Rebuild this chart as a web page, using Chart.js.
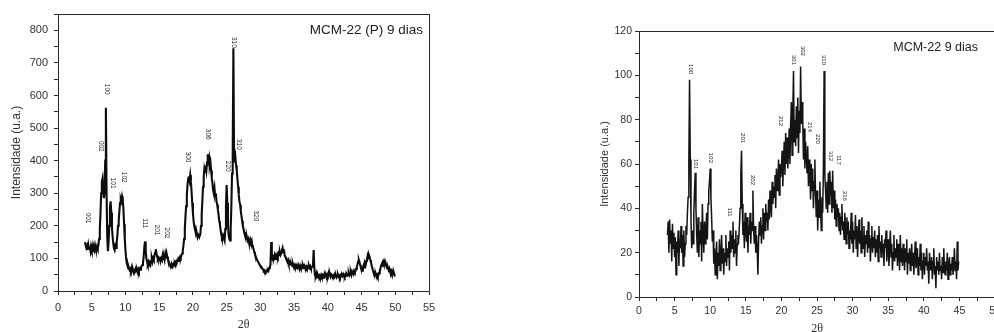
<!DOCTYPE html>
<html>
<head>
<meta charset="utf-8">
<script src="https://cdn.jsdelivr.net/npm/chart.js@4/dist/chart.umd.min.js"></script>
<style>
  html, body { margin: 0; padding: 0; width: 994px; height: 332px; overflow: hidden; background: #fdfdfd; }
  canvas { position: absolute; top: 0; }
  #left { left: 0; }
  #right { left: 580px; }
</style>
</head>
<body>
<canvas id="left" width="470" height="332"></canvas>
<canvas id="right" width="430" height="336"></canvas>
<script>
// Diffractogram sampling: 2θ starts at 4° and advances 0.1° per reading
const THETA_START = 4.0;
const THETA_STEP = 0.1;

// MCM-22 (P) 9 dias — intensity, one row per degree (4.0 … 50.0)
const intensityP = [
  150,140,132,138,126,142,130,136,124,138,
  128,136,122,134,126,140,130,124,136,130,
  142,160,190,240,300,335,345,310,285,300,
  400,562,300,165,122,150,200,255,275,240,
  195,165,145,130,125,138,132,150,170,200,
  215,245,270,282,275,290,280,250,205,160,
  125,100,85,78,70,72,65,68,62,70,
  60,66,58,64,62,68,60,65,58,66,
  60,68,65,72,76,80,88,105,135,152,
  125,100,90,82,88,78,85,80,92,100,
  90,100,95,110,118,128,115,105,98,102,
  95,105,92,100,96,108,98,104,95,112,
  100,115,105,96,92,85,80,78,72,80,
  75,82,78,85,80,90,88,95,92,100,
  98,105,102,110,115,125,140,160,190,230,
  260,295,325,345,352,340,356,335,305,270,
  240,215,200,190,182,170,175,165,172,168,
  168,175,200,235,275,320,350,375,365,385,
  370,395,420,400,410,385,395,370,345,330,
  310,300,315,290,300,275,265,250,235,215,
  205,188,175,165,170,158,162,155,190,260,
  325,270,205,170,160,155,190,260,360,420,
  745,420,395,410,385,370,345,320,295,275,
  265,245,230,215,200,190,180,172,168,160,
  165,155,160,150,148,158,150,155,140,135,
  128,120,112,108,100,96,92,88,84,80,
  78,75,72,68,66,62,64,60,58,62,
  60,65,62,70,75,80,150,110,100,105,
  102,110,98,108,104,112,106,115,110,120,
  112,118,125,132,120,128,110,105,100,95,
  90,95,85,88,82,86,80,78,84,76,
  80,74,78,70,76,72,80,74,70,78,
  72,76,70,80,74,78,72,68,75,70,
  74,70,78,72,76,70,72,75,80,126,
  70,48,45,52,42,50,44,48,42,46,
  50,44,48,40,46,52,45,48,42,50,
  46,55,48,52,44,50,46,42,48,45,
  50,44,48,42,46,50,44,47,42,48,
  45,50,46,52,48,44,50,46,52,48,
  50,55,48,52,58,50,60,56,52,62,
  58,62,68,75,82,90,95,88,80,72,
  65,62,70,78,72,85,80,92,98,108,
  100,110,104,95,88,78,70,62,55,50,
  48,52,45,50,44,48,55,60,70,78,
  82,88,92,85,90,80,82,75,70,72,
  65,70,62,58,62,55,60,52,55,48,
  50
];

// MCM-22 9 dias — intensity, one row per degree (4.0 … 44.9)
const intensity9 = [
  28,34,20,35,24,30,16,33,22,29,
  18,27,10,25,20,30,14,26,22,32,
  20,28,14,30,18,24,32,28,38,45,
  60,98,62,35,22,30,24,38,48,56,
  40,28,20,36,18,30,24,34,16,42,
  28,20,34,24,30,38,26,42,48,52,
  58,45,36,25,30,15,22,10,18,25,
  8,20,14,26,12,18,28,15,22,10,
  20,16,28,14,22,18,25,12,30,20,
  28,22,34,18,26,20,30,14,24,28,
  26,32,40,55,66,42,28,34,22,38,
  30,25,36,20,32,28,38,24,34,30,
  48,30,24,32,20,28,22,10,26,34,
  28,36,24,32,40,26,38,30,42,34,
  38,30,44,35,48,40,36,52,42,50,
  45,55,40,58,48,52,62,46,60,54,
  58,66,50,62,70,55,74,60,72,58,
  66,76,60,78,88,64,82,102,70,80,
  68,86,72,90,65,84,74,104,78,88,
  80,62,76,58,70,64,56,68,50,62,
  55,44,60,48,58,40,52,62,46,36,
  48,30,44,36,52,40,30,45,38,58,
  102,55,48,40,52,38,56,42,57,46,
  52,38,57,40,48,35,44,32,42,36,
  40,30,38,28,36,42,30,34,26,38,
  32,24,36,28,34,22,30,26,38,24,
  34,20,30,26,37,22,32,18,28,35,
  24,30,20,36,26,22,32,18,28,24,
  30,20,34,22,28,16,26,32,20,27,
  22,30,18,26,20,28,16,32,22,25,
  18,28,20,24,14,26,22,30,16,22,
  26,14,22,30,18,24,12,20,28,16,
  22,18,26,14,24,20,12,28,16,22,
  14,24,18,12,22,16,26,10,20,15,
  22,12,18,24,14,20,10,18,25,13,
  16,22,10,18,14,24,12,20,8,16,
  20,10,18,14,22,12,16,6,20,14,
  12,18,8,16,22,10,14,4,18,12,
  16,10,20,12,14,8,18,11,22,13,
  10,16,12,20,8,14,18,10,15,12,
  18,10,14,22,12,16,8,25,12,16
];

// Reflection indices (hkl) written above the peaks: 2θ, height, text
const peaksPTheta = [4.4, 6.3, 7.2, 8.1, 9.7, 12.8, 14.7, 16.2, 19.2, 22.2, 25.2, 26.0, 26.8, 29.3];
const peaksPLevel = [224, 444, 619, 331, 349, 208, 187, 178, 411, 481, 383, 763, 450, 230];
const peaksPText  = ['001','002','100','101','102','111','201','202','300','306','220','310','310','320'];

const peaks9Theta = [7.27, 7.96, 10.0, 12.7, 14.5, 15.9, 19.9, 21.7, 23.0, 24.0, 25.05, 26.0, 26.9, 28.1, 28.9];
const peaks9Level = [102.8, 60, 62.7, 38.3, 71.7, 52.8, 79.4, 106.9, 111, 76.7, 71.3, 106.9, 63.6, 61.8, 45.6];
const peaks9Text  = ['100','101','102','111','201','202','212','301','302','214','220','310','312','117','216'];

const titleP = 'MCM-22 (P) 9 dias';
const title9 = 'MCM-22 9 dias';

function toPoints(values) {
  return values.map((v, i) => ({ x: +(THETA_START + i * THETA_STEP).toFixed(2), y: v }));
}

// Closes the plot box and writes the sample name and hkl indices
const framePlugin = {
  id: 'frame',
  afterDatasetsDraw(chart, args, opts) {
    const { ctx, chartArea: a, scales } = chart;
    ctx.save();
    ctx.strokeStyle = '#2a2a2a';
    ctx.lineWidth = 1;
    ctx.strokeRect(a.left + 0.5, a.top + 0.5, a.right - a.left, a.bottom - a.top);

    ctx.fillStyle = '#262626';
    ctx.font = opts.peakFont;
    ctx.textAlign = 'center';
    ctx.textBaseline = 'middle';
    opts.theta.forEach((t, i) => {
      const px = scales.x.getPixelForValue(t);
      const py = scales.y.getPixelForValue(opts.level[i]);
      ctx.save();
      ctx.translate(px, py);
      ctx.rotate(Math.PI / 2);
      ctx.fillText(opts.text[i], 0, 0);
      ctx.restore();
    });

    ctx.fillStyle = '#222';
    ctx.font = opts.titleFont;
    ctx.textAlign = 'right';
    ctx.textBaseline = 'middle';
    ctx.fillText(opts.title, a.right - opts.titleInset, a.top + opts.titleDrop);
    ctx.restore();
  }
};

function makeChart(id, cfg) {
  return new Chart(document.getElementById(id), {
    type: 'line',
    data: {
      datasets: [{
        data: toPoints(cfg.values),
        borderColor: cfg.lineColor,
        borderWidth: cfg.lineWidth,
        pointRadius: 0,
        tension: 0,
        fill: false
      }]
    },
    options: {
      responsive: false,
      animation: false,
      events: [],
      layout: { padding: { top: cfg.padTop, right: cfg.padRight, left: 0, bottom: 0 } },
      plugins: {
        legend: { display: false },
        tooltip: { enabled: false },
        frame: {
          theta: cfg.peakTheta, level: cfg.peakLevel, text: cfg.peakText,
          peakFont: cfg.peakFont, title: cfg.title, titleFont: cfg.titleFont,
          titleInset: cfg.titleInset, titleDrop: cfg.titleDrop
        }
      },
      scales: {
        x: {
          type: 'linear', min: 0, max: cfg.xMax,
          afterFit: s => { s.height = cfg.xAxisHeight; },
          border: { display: true, color: '#2a2a2a', width: 1 },
          grid: { drawOnChartArea: false, drawTicks: true, tickLength: cfg.tickLen, color: '#2a2a2a' },
          ticks: {
            stepSize: 2.5, autoSkip: false, maxRotation: 0, padding: cfg.xTickPad,
            color: '#333', font: { family: 'Liberation Sans, Arial, sans-serif', size: cfg.tickSize },
            callback: v => (v % 5 === 0 ? String(v) : '')
          },
          title: {
            display: true, text: '2θ', color: '#333',
            font: { family: 'Liberation Serif, DejaVu Serif, serif', size: 12 },
            padding: { top: 0, bottom: 0 }
          }
        },
        y: {
          type: 'linear', min: 0, max: cfg.yMax,
          afterFit: s => { s.width = cfg.yAxisWidth; },
          border: { display: true, color: '#2a2a2a', width: 1 },
          grid: { drawOnChartArea: false, drawTicks: true, tickLength: cfg.tickLen, color: '#2a2a2a' },
          ticks: {
            stepSize: cfg.yMinor, autoSkip: false, padding: cfg.yTickPad,
            color: '#333', font: { family: 'Liberation Sans, Arial, sans-serif', size: cfg.tickSize },
            callback: v => (v % cfg.yMajor === 0 ? String(v) : '')
          },
          title: {
            display: true, text: 'Intensidade (u.a.)', color: '#333',
            font: { family: 'Liberation Sans, Arial, sans-serif', size: cfg.axisTitleSize },
            padding: { top: cfg.yTitlePad, bottom: 0 }
          }
        }
      }
    },
    plugins: [framePlugin]
  });
}

makeChart('left', {
  values: intensityP, lineColor: '#0d0d0d', lineWidth: 2.1,
  xMax: 55, yMax: 850, yMinor: 50, yMajor: 100,
  padTop: 14, padRight: 41, xAxisHeight: 41, yAxisWidth: 58,
  tickLen: 4, xTickPad: 6, yTickPad: 6, tickSize: 11,
  axisTitleSize: 12, yTitlePad: 9,
  peakTheta: peaksPTheta, peakLevel: peaksPLevel, peakText: peaksPText,
  peakFont: '6.5px Liberation Sans, Arial, sans-serif',
  title: titleP, titleFont: '13.5px Liberation Sans, Arial, sans-serif',
  titleInset: 6, titleDrop: 16
});

makeChart('right', {
  values: intensity9, lineColor: '#141414', lineWidth: 1.5,
  xMax: 50, yMax: 120, yMinor: 10, yMajor: 20,
  padTop: 31, padRight: 15, xAxisHeight: 39, yAxisWidth: 59,
  tickLen: 4, xTickPad: 4, yTickPad: 3, tickSize: 10.5,
  axisTitleSize: 11, yTitlePad: 18,
  peakTheta: peaks9Theta, peakLevel: peaks9Level, peakText: peaks9Text,
  peakFont: '6px Liberation Sans, Arial, sans-serif',
  title: title9, titleFont: '12.5px Liberation Sans, Arial, sans-serif',
  titleInset: 17, titleDrop: 17
});
</script>
</body>
</html>
